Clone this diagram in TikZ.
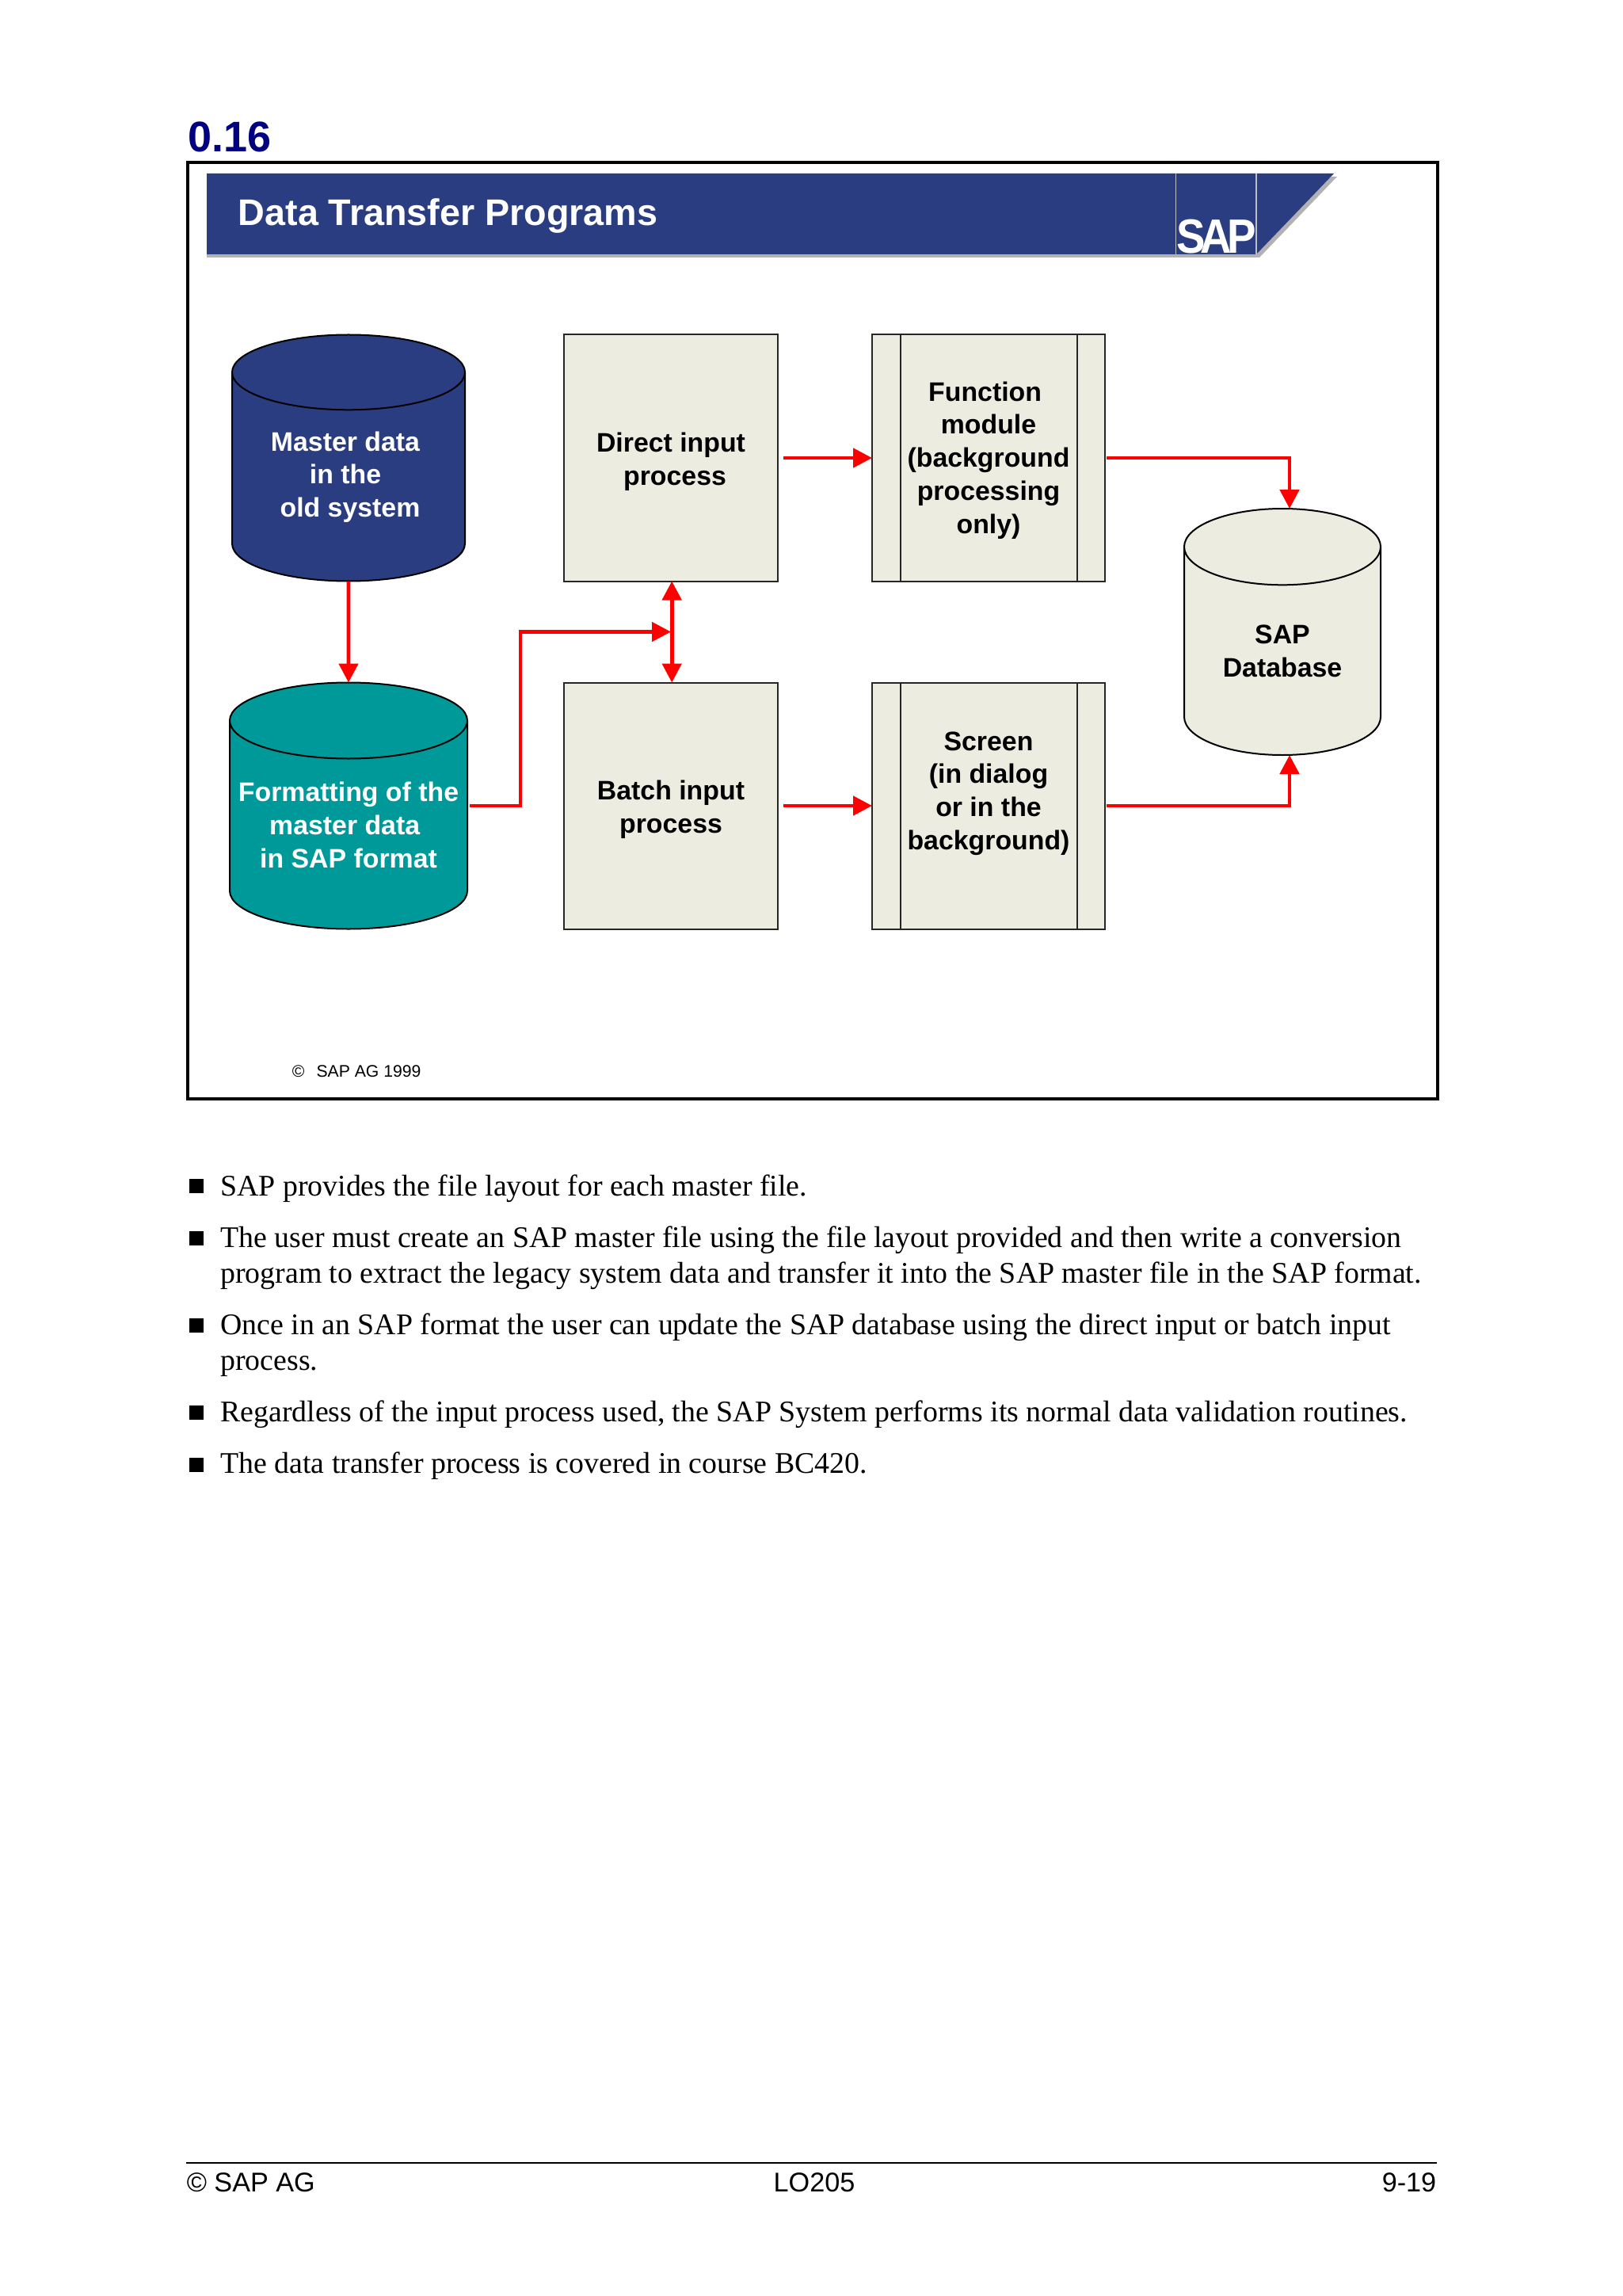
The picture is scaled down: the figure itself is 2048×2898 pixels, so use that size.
\documentclass[tikz,border=0pt]{standalone}
\usepackage{fontspec}
\setmainfont{Liberation Serif}
\setsansfont{Liberation Sans}
\usetikzlibrary{positioning,calc,arrows.meta,shapes.geometric}
\definecolor{sapblue}{HTML}{2A3D80}
\definecolor{sapteal}{HTML}{009999}
\definecolor{sapcream}{HTML}{ECEDE0}
\definecolor{headnavy}{HTML}{000080}
\newcommand{\boxfont}{\fontsize{8.46}{10.45}\selectfont\sffamily\bfseries}
\newcommand{\thinline}[1]{\makebox[30pt]{#1}}
\tikzset{
  procbox/.style={draw=black!85,line width=.5pt,fill=sapcream,minimum width=67.5pt,minimum height=77.75pt,inner sep=0pt,outer sep=0pt,align=center,font=\boxfont},
  storebox/.style={cylinder,shape border rotate=90,draw=black,line width=.5pt,cylinder uses custom fill,inner sep=0pt,outer sep=0pt,align=center,font=\boxfont,minimum height=77.75pt,anchor=shape center},
  flow/.style={draw=red,line width=1.2pt,-{Triangle[length=6pt,width=6pt]}},
  flowboth/.style={draw=red,line width=1.2pt,{Triangle[length=6pt,width=6pt]}-{Triangle[length=6pt,width=6pt]}},
  bodyline/.style={anchor=base west,inner sep=0pt,font=\fontsize{9.46}{11}\selectfont},
  squarebullet/.style={fill=black,minimum size=4.5pt,inner sep=0pt},
  pagefoot/.style={inner sep=0pt,font=\fontsize{8.55}{10}\selectfont\sffamily}
}
\begin{document}
\begin{tikzpicture}[x=.25pt,y=-.25pt,node distance=109.75pt]
  \useasboundingbox (0,0) rectangle (2048,2898);
  \node (number) [anchor=base west,inner sep=0pt,text=headnavy,font=\fontsize{13.5}{16}\selectfont\sffamily\bfseries] at (237,192) {0.16};
  \node (frame) [draw=black,line width=1pt,minimum width=394.5pt,minimum height=295.5pt,inner sep=0pt] at (1025.5,796) {};
  % banner
  \fill[black!30] (261,325) -- (1590,325) -- (1688,223) -- (1680,223) -- (1584,320) -- (261,320) -- cycle;
  \fill[sapblue] (261,219) -- (1684,219) -- (1586,321) -- (261,321) -- cycle;
  \draw[white!75!black,line width=.4pt] (1484.5,219) -- (1484.5,321) (1586,219) -- (1586,321);
  \node (title) [anchor=base west,inner sep=0pt,text=white,font=\fontsize{11.68}{14}\selectfont\sffamily\bfseries] at (300,285) {Data Transfer Programs};
  \node (logo) [anchor=base,inner sep=0pt,text=white,font=\fontsize{15.2}{16}\selectfont\sffamily\bfseries] at (1535.5,320) {\scalebox{.9}[1]{S\kern-1.6pt A\kern-1.6pt P}};

  \node (master) [storebox,aspect=.79,minimum width=73.5pt,cylinder body fill=sapblue,cylinder end fill=sapblue,text=white] at (440,578) {\thinline{Master data\hspace*{2pt}}\\\thinline{in the\hspace*{2pt}}\\\thinline{\hspace*{1pt}old system}};
  \node (format) [storebox,aspect=.8,minimum width=75pt,cylinder body fill=sapteal,cylinder end fill=sapteal,text=white] at (440,1017) {\thinline{Formatting of the}\\\thinline{master data\hspace*{2.4pt}}\\\thinline{in SAP format}};
  \node (direct) [procbox] at ([xshift=101.75pt]master.shape center) {Direct input\\\hspace*{2.5pt}process\\[-11.13pt]};
  \node (batch) [procbox,below of=direct] {Batch input\\process\\[-11.13pt]};
  \node (func) [procbox,minimum width=73.5pt,right of=direct,node distance=100.25pt] {Function\hspace*{2.2pt}\\module\\(background\hspace*{2.2pt}\\processing\hspace*{2.2pt}\\only)\\[-10.2pt]};
  \node (screen) [procbox,minimum width=73.5pt,below of=func] {Screen\\(in dialog\\or in the\\background)\\[-.95pt]};
  \node (sapdb) [storebox,aspect=.64,minimum width=62pt,cylinder body fill=sapcream,cylinder end fill=sapcream] at (1619,797.5) {SAP\\Database};
  \foreach \n in {func,screen} {
    \draw[black!85,line width=.5pt] ([xshift=9pt]\n.north west) -- ([xshift=9pt]\n.south west);
    \draw[black!85,line width=.5pt] ([xshift=-8.75pt]\n.north east) -- ([xshift=-8.75pt]\n.south east);
  }

  \coordinate (join) at ($(direct.south)!.5!(batch.north)$);
  \coordinate (bend) at (657,0);
  \draw[flow] (master.south) -- (format.north);
  \draw[flow] ([xshift=.75pt]format.east |- batch) -- (bend|-batch) -- (bend|-join) -- (join);
  \draw[flowboth] ([xshift=.3pt]direct.south) -- ([xshift=.3pt]batch.north);
  \draw[flow] ([xshift=1.75pt]direct.east) -- (func.west);
  \draw[flow] ([xshift=1.75pt]batch.east) -- (screen.west);
  \draw[flow] ([xshift=.5pt]func.east) -| ([xshift=2.25pt]sapdb.north);
  \draw[flow] ([xshift=.5pt]screen.east) -| ([xshift=2.25pt]sapdb.south);

  \node (copy) [anchor=base west,inner sep=0pt,font=\fontsize{5.3}{7}\selectfont\sffamily] at (368,1359) {©\hspace{2.3pt} SAP AG 1999};

  % bullet text
  \node (b1) [squarebullet] at (248,1497) {};
  \node (l1) [bodyline] at (277.5,1509) {SAP provides the file layout for each master file.};
  \node (b2) [squarebullet] at (248,1562.5) {};
  \node (l2) [bodyline] at (277.5,1574) {The user must create an SAP master file using the file layout provided and then write a conversion};
  \node (l3) [bodyline] at (277.5,1619) {program to extract the legacy system data and transfer it into the SAP master file in the SAP format.};
  \node (b3) [squarebullet] at (248,1673) {};
  \node (l4) [bodyline] at (277.5,1684) {Once in an SAP format the user can update the SAP database using the direct input or batch input};
  \node (l5) [bodyline] at (277.5,1729) {process.};
  \node (b4) [squarebullet] at (248,1783) {};
  \node (l6) [bodyline] at (277.5,1794) {Regardless of the input process used, the SAP System performs its normal data validation routines.};
  \node (b5) [squarebullet] at (248,1848.5) {};
  \node (l7) [bodyline] at (277.5,1859) {The data transfer process is covered in course BC420.};

  % footer
  \coordinate (footl) at (235,2730);
  \coordinate (footr) at (1814,2730);
  \draw[black,line width=.6pt] (footl) -- (footr);
  \node (f1) [pagefoot,anchor=base west] at (235,2766) {© SAP AG};
  \node (f2) [pagefoot,anchor=base] at (1028,2766) {LO205};
  \node (f3) [pagefoot,anchor=base east] at (1814,2766) {9-19};
\end{tikzpicture}
\end{document}
